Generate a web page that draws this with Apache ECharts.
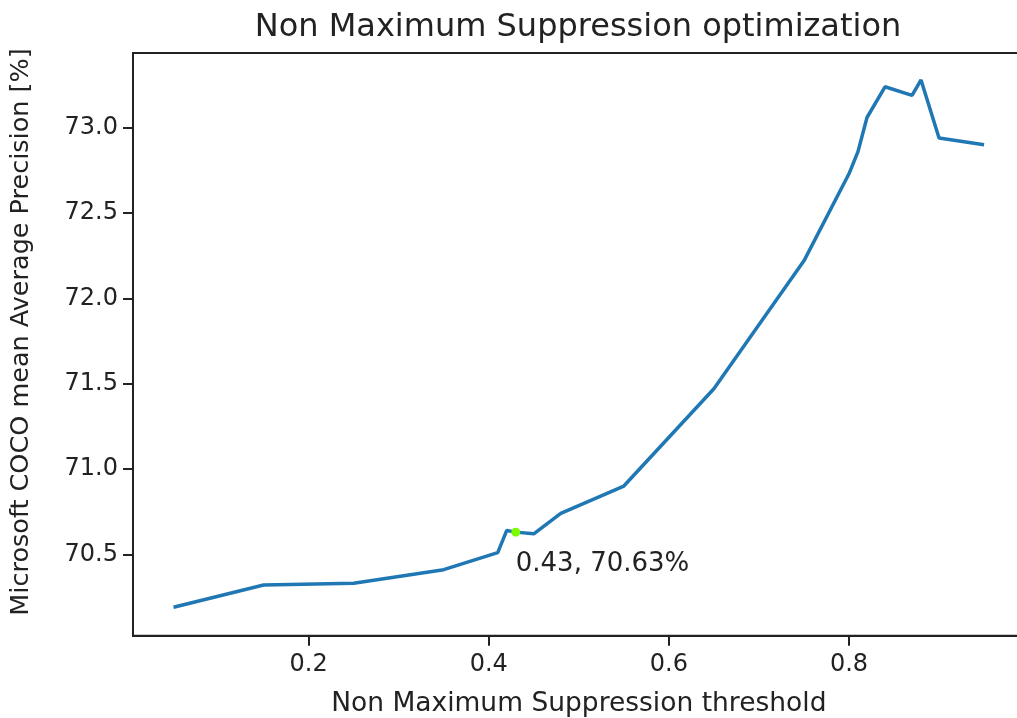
<!DOCTYPE html>
<html>
<head>
<meta charset="utf-8">
<script src="https://cdn.jsdelivr.net/npm/echarts@6/dist/echarts.min.js"></script>
<style>
  html, body { margin: 0; padding: 0; background: #fff; }
  #chart { width: 1017px; height: 718px; }
</style>
</head>
<body>
<div id="chart"></div>
<script>
// NMS threshold sweep and the resulting COCO mAP
const thresholds = [0.05, 0.15, 0.25, 0.35, 0.41, 0.42, 0.43, 0.45, 0.48, 0.55, 0.65, 0.75, 0.80, 0.81, 0.82, 0.84, 0.87, 0.88, 0.90, 0.95];
const mapValues  = [70.19, 70.32, 70.33, 70.41, 70.51, 70.64, 70.63, 70.62, 70.74, 70.90, 71.47, 72.22, 72.73, 72.86, 73.06, 73.24, 73.19, 73.28, 72.94, 72.90];

// highlighted operating point
const chosenThreshold = 0.43;
const chosenMap = 70.63;

// tick labels
const xTicks = [0.2, 0.4, 0.6, 0.8];
const yTicks = [70.5, 71.0, 71.5, 72.0, 72.5, 73.0];

const titleText = 'Non Maximum Suppression optimization';
const xName = 'Non Maximum Suppression threshold';
const yName = 'Microsoft COCO mean Average Precision [%]';

const FONT = '"DejaVu Sans", sans-serif';
const TEXT = '#222';
const AXIS = '#222';

const linePoints = thresholds.map((t, i) => [t, mapValues[i]]);

const chart = echarts.init(document.getElementById('chart'), null, { renderer: 'canvas' });

chart.setOption({
  animation: false,
  backgroundColor: '#fff',
  graphic: [
    {
      // chart title
      type: 'text',
      x: 578,
      y: 28,
      style: {
        text: titleText,
        font: '32px ' + FONT,
        fill: TEXT,
        textAlign: 'center',
        textVerticalAlign: 'middle',
        align: 'center',
        verticalAlign: 'middle'
      }
    },
    {
      // y-axis title, rotated
      type: 'text',
      x: 21,
      y: 332,
      rotation: Math.PI / 2,
      style: {
        text: yName,
        font: '25.5px ' + FONT,
        fill: TEXT,
        textAlign: 'center',
        textVerticalAlign: 'middle',
        align: 'center',
        verticalAlign: 'middle'
      }
    }
  ],
  grid: {
    left: 133,
    top: 53,
    width: 891.6,
    height: 582.7,
    outerBoundsMode: 'none',
    containLabel: false,
    show: true,
    borderColor: AXIS,
    borderWidth: 2,
    backgroundColor: 'transparent'
  },
  xAxis: {
    type: 'value',
    min: 0.005,
    max: 0.995,
    name: xName,
    nameLocation: 'middle',
    nameGap: 55,
    nameTextStyle: { fontFamily: FONT, fontSize: 26.5, color: TEXT },
    axisLine: { show: true, onZero: false, lineStyle: { color: AXIS, width: 2 } },
    axisTick: { show: true, length: 10, customValues: xTicks, lineStyle: { color: AXIS, width: 2 } },
    axisLabel: {
      customValues: xTicks,
      formatter: v => v.toFixed(1),
      fontFamily: FONT, fontSize: 24, color: TEXT, margin: 17
    },
    splitLine: { show: false }
  },
  yAxis: {
    type: 'value',
    min: 70.023,
    max: 73.438,
    axisLine: { show: true, onZero: false, lineStyle: { color: AXIS, width: 2 } },
    axisTick: { show: true, length: 10, customValues: yTicks, lineStyle: { color: AXIS, width: 2 } },
    axisLabel: {
      customValues: yTicks,
      formatter: v => v.toFixed(1),
      fontFamily: FONT, fontSize: 24, color: TEXT, margin: 15
    },
    splitLine: { show: false }
  },
  series: [
    {
      type: 'line',
      data: linePoints,
      showSymbol: false,
      lineStyle: { color: '#1f77b4', width: 3.5 },
      z: 2
    },
    {
      type: 'scatter',
      data: [[chosenThreshold, chosenMap]],
      symbol: 'circle',
      symbolSize: 9,
      itemStyle: { color: '#7cfc00', opacity: 1 },
      label: {
        show: true,
        formatter: p => p.value[0].toFixed(2) + ', ' + p.value[1].toFixed(2) + '%',
        position: [4.5, 24],
        align: 'left',
        verticalAlign: 'top',
        fontFamily: FONT,
        fontSize: 26,
        color: TEXT,
        opacity: 1
      },
      z: 3
    }
  ]
});
</script>
</body>
</html>
